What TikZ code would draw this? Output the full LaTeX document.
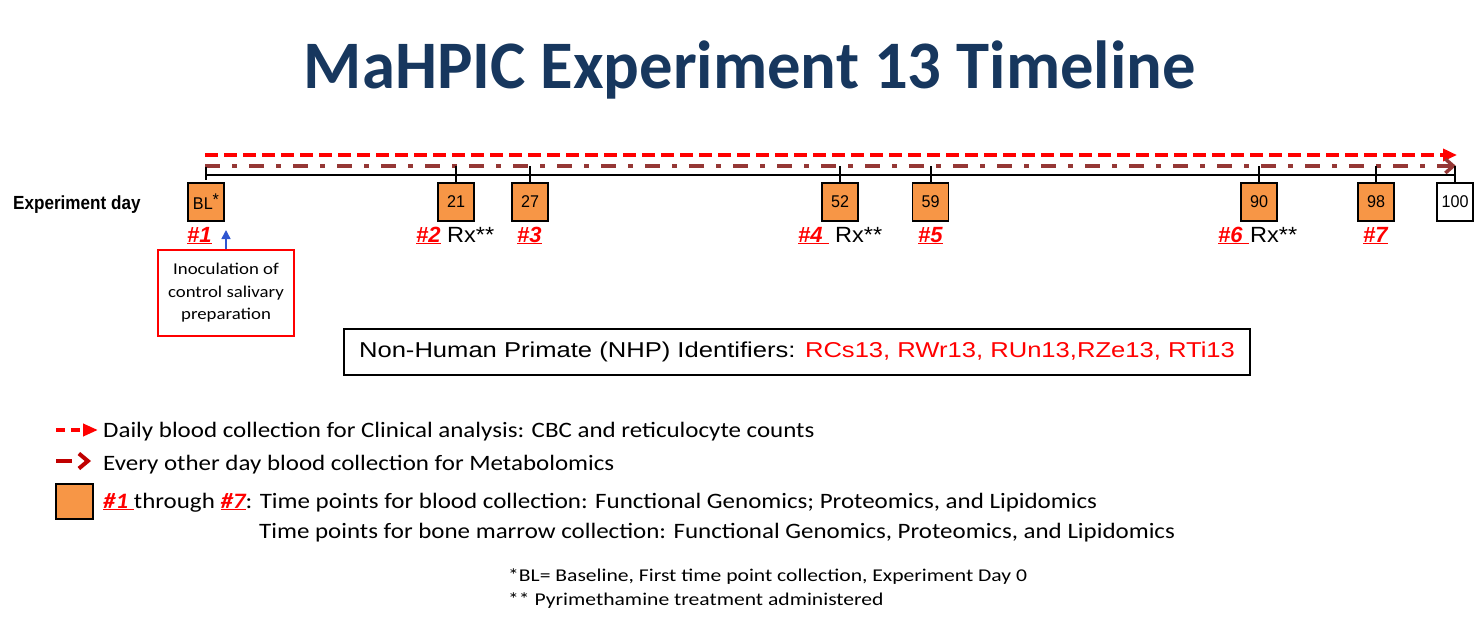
\documentclass[tikz,border=0pt]{standalone}
\usepackage{fontspec}
\setmainfont{Carlito}
\newfontfamily\arialf{Liberation Sans}
\newfontfamily\arialrx[FakeStretch=1.07]{Liberation Sans}
\newfontfamily\arialnhp[FakeStretch=1.19]{Liberation Sans}
\newfontfamily\arialn[FakeStretch=0.95]{Liberation Sans}
\newfontfamily\arialb[FakeStretch=0.9]{Liberation Sans}
\newfontfamily\calleg[FakeStretch=1.135]{Carlito}
\newfontfamily\calfoot[FakeStretch=1.2]{Carlito}
\newfontfamily\calbox[FakeStretch=1.14]{Carlito}
\newfontfamily\caltitle[FakeStretch=0.98]{Carlito}
\usetikzlibrary{arrows.meta}
\definecolor{navy}{HTML}{17375E}
\definecolor{orng}{HTML}{F79646}
\definecolor{brn}{HTML}{953735}
\definecolor{dred}{HTML}{C00000}
\definecolor{blu}{HTML}{2F55D0}
\newcommand{\hlab}[1]{\textcolor{red}{\arialf\bfseries\itshape\underline{#1}}}
\newcommand{\hlabc}[1]{\textcolor{red}{\bfseries\itshape\underline{#1}}}
\begin{document}
\begin{tikzpicture}[x=1pt,y=-1pt,
  tp/.style={draw=black,line width=1.8pt,fill=orng,minimum width=36pt,minimum height=38pt,inner sep=0pt,font=\arialn\fontsize{17}{19}\selectfont},
  tick/.style={line width=2pt},
  rx/.style={anchor=base west,inner sep=0pt,font=\arialrx\fontsize{22}{26}\selectfont},
  leg/.style={anchor=base west,inner sep=0pt,font=\calleg\fontsize{22}{26}\selectfont},
  foot/.style={anchor=base west,inner sep=0pt,font=\calfoot\fontsize{18}{22}\selectfont}]
\useasboundingbox (0,0) rectangle (1477,627);

% title
\node[anchor=base,inner sep=0pt,font=\caltitle\fontsize{68}{80}\selectfont\bfseries,text=navy] (title) at (750,88) {MaHPIC Experiment 13 Timeline};

% arrows
\coordinate (r0) at (205,155);
\coordinate (r1) at (1457,155);
\draw[red,line width=4pt,dash pattern=on 13pt off 6pt,-{Triangle[length=14pt,width=12pt]}] (r0) -- (r1);
\coordinate (m0) at (205,166);
\coordinate (m1) at (1456,166);
\draw[brn,line width=3.5pt,dash pattern=on 15pt off 12pt on 5pt off 12pt,-{Straight Barb[length=8pt,width=14pt]}] (m0) -- (m1);

% timeline
\coordinate (t0) at (206,175);
\coordinate (t1) at (1455,175);
\draw[tick] (t0) -- (t1);

% boxes
\node[tp] (b0) at (206,202) {BL\raisebox{4pt}{*}};
\node[tp] (b21) at (456,202) {21};
\node[tp] (b27) at (530,202) {27};
\node[tp] (b52) at (840,202) {52};
\node[tp] (b59) at (930.5,202) {59};
\node[tp] (b90) at (1259,202) {90};
\node[tp] (b98) at (1376,202) {98};
\node[tp,fill=white] (b100) at (1455,202) {100};

\coordinate (k0) at (206,167);
\draw[tick] (k0) -- ++(0,13);
\foreach \b in {b21,b27,b52,b59,b90,b98,b100}
  \draw[tick] (\b.north) -- ++(0,-16);

% labels
\node[rx] (n1) at (187,242) {\hlab{\#1}};
\node[rx] (n2) at (416,242) {\hlab{\#2}};
\node[rx] (rx2) at (447,242) {Rx**};
\node[rx] (n3) at (517,242) {\hlab{\#3}};
\node[rx] (n4) at (798,242) {\hlab{\#4\ }};
\node[rx] (rx4) at (835,242) {Rx**};
\node[rx] (n5) at (918,242) {\hlab{\#5}};
\node[rx] (n6) at (1218,242) {\hlab{\#6\ }};
\node[rx] (rx6) at (1250,242) {Rx**};
\node[rx] (n7) at (1363,242) {\hlab{\#7}};

\node[anchor=base west,inner sep=0pt,font=\arialb\bfseries\fontsize{19}{22}\selectfont] (expday) at (13,209) {Experiment day};

% inoculation
\node[draw=red,line width=1.5pt,minimum width=136pt,minimum height=86pt,align=center,inner sep=0pt,font=\calbox\fontsize{16.5}{22.5}\selectfont] (inoc) at (226,293) {Inoculation of\\control salivary\\preparation};
\coordinate (btip) at (226,230);
\draw[blu,line width=1.5pt,-{Triangle[length=9pt,width=9pt]}] (inoc.north) -- (btip);

% NHP box
\node[draw,line width=1.5pt,minimum width=906pt,minimum height=46pt,inner sep=0pt,font=\arialnhp\fontsize{21.5}{26}\selectfont] (nhp) at (797,352) {Non-Human Primate (NHP) Identifiers: \textcolor{red}{RCs13, RWr13, RUn13,RZe13, RTi13}};

% legend
\coordinate (l1a) at (56,430);
\coordinate (l1b) at (98,430);
\draw[red,line width=4pt,dash pattern=on 9pt off 6pt,-{Triangle[length=15pt,width=12pt]}] (l1a) -- (l1b);
\node[leg] (l1t) at (103,437) {Daily blood collection for Clinical analysis: CBC and reticulocyte counts};
\coordinate (l2a) at (56,461);
\coordinate (l2b) at (91,461);
\draw[dred,line width=4pt,dash pattern=on 16pt off 40pt,-{Straight Barb[length=9pt,width=15pt]}] (l2a) -- (l2b);
\node[leg] (l2t) at (103,470) {Every other day blood collection for Metabolomics};
\node[draw,line width=1.8pt,fill=orng,minimum width=37pt,minimum height=35pt,inner sep=0pt] (lsq) at (74.5,501.5) {};
\node[leg] (l3t) at (103,508) {\hlabc{\#1\ }through \hlabc{\#7}: Time points for blood collection: Functional Genomics; Proteomics, and Lipidomics};
\node[leg] (l4t) at (259,538) {Time points for bone marrow collection: Functional Genomics, Proteomics, and Lipidomics};

% footnotes
\node[foot] (f1) at (508,581) {*BL= Baseline, First time point collection, Experiment Day 0};
\node[foot] (f2) at (508,605) {** Pyrimethamine treatment administered};
\end{tikzpicture}
\end{document}
